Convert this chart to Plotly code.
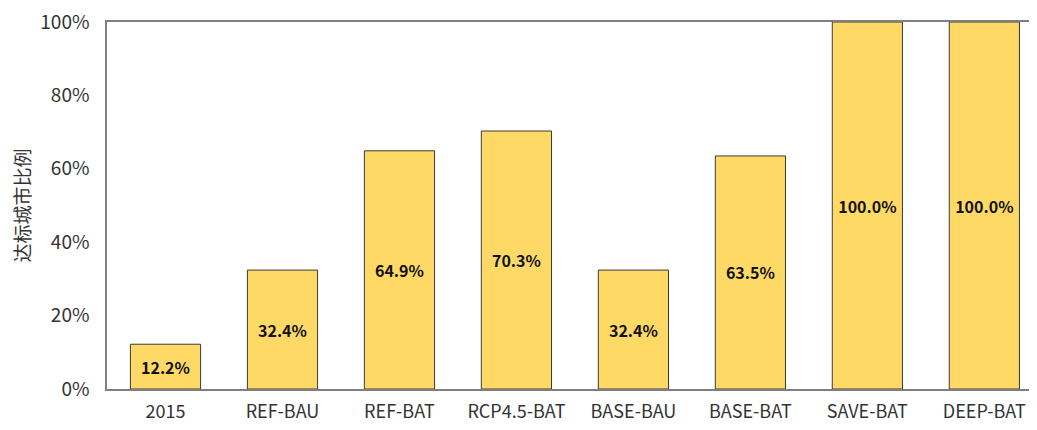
import plotly.graph_objects as go

# 情景及达标城市比例
scenarios = ['2015', 'REF-BAU', 'REF-BAT', 'RCP4.5-BAT', 'BASE-BAU', 'BASE-BAT', 'SAVE-BAT', 'DEEP-BAT']
ratios = [0.122, 0.324, 0.649, 0.703, 0.324, 0.635, 1.0, 1.0]
tick_vals = [0, 0.2, 0.4, 0.6, 0.8, 1.0]
tick_text = ['0%', '20%', '40%', '60%', '80%', '100%']

FONT = 'Noto Sans CJK SC'

fig = go.Figure()
fig.add_trace(go.Bar(
    x=scenarios,
    y=ratios,
    width=0.6,
    marker=dict(color='#FFD966', line=dict(color='#3a3a3a', width=1)),
    text=[f'{v * 100:.1f}%' for v in ratios],
    textposition='inside',
    insidetextanchor='middle',
    textangle=0,
    textfont=dict(family=FONT, size=16, color='#111111', weight='bold'),
    hoverinfo='skip',
))

# 页面 body 自带 8px 边距，图幅相应缩小
fig.update_layout(
    width=1029, height=422,
    margin=dict(l=99, r=0, t=14, b=41),
    plot_bgcolor='white',
    paper_bgcolor='white',
    showlegend=False,
    font=dict(family=FONT, color='#404040'),
    xaxis=dict(
        range=[-0.5, 7.45],
        automargin=False,
        showline=True, mirror=True, linecolor='#7f7f7f', linewidth=1.5,
        ticks='', showgrid=False,
        ticklabelstandoff=6,
        ticklabeloverflow='allow',
        tickfont=dict(size=18, color='#333333'),
    ),
    yaxis=dict(
        range=[0, 1.0],
        automargin=False,
        tickvals=tick_vals, ticktext=tick_text,
        showline=True, linecolor='#7f7f7f', linewidth=1.5,
        ticks='', showgrid=False, zeroline=False,
        ticklabelstandoff=12,
        ticklabeloverflow='allow',
        tickfont=dict(size=19, color='#333333'),
        title=dict(text='达标城市比例', font=dict(size=19, color='#333333'), standoff=18),
    ),
)

fig.write_html('out.html')
